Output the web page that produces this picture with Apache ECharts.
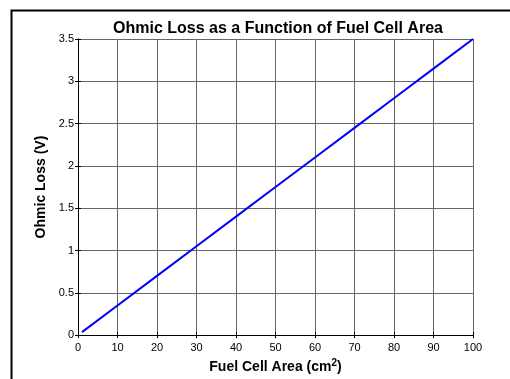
<!DOCTYPE html>
<html>
<head>
<meta charset="utf-8">
<script src="https://cdn.jsdelivr.net/npm/echarts@6/dist/echarts.min.js"></script>
<style>
  html, body { margin: 0; padding: 0; background: #fff; }
  #chart { width: 510px; height: 379px; }
</style>
</head>
<body>
<div id="chart"></div>
<script>
// fuel cell area (cm^2) and ohmic loss (V)
var areaValues = [1, 10, 20, 30, 40, 50, 60, 70, 80, 90, 100];
var lossValues = [0.035, 0.35, 0.70, 1.05, 1.40, 1.75, 2.10, 2.45, 2.80, 3.15, 3.50];

var xTicks = [0, 10, 20, 30, 40, 50, 60, 70, 80, 90, 100];
var yTicks = [0, 0.5, 1, 1.5, 2, 2.5, 3, 3.5];

var font = '"Liberation Sans", Arial, sans-serif';
var gridColor = '#666';

var chart = echarts.init(document.getElementById('chart'));

var baseX = {
    type: 'value',
    min: xTicks[0],
    max: xTicks[xTicks.length - 1],
    interval: 10
};
var baseY = {
    type: 'value',
    min: yTicks[0],
    max: yTicks[yTicks.length - 1],
    interval: 0.5
};

var option = {
    animation: false,
    title: {
        text: 'Ohmic Loss as a Function of Fuel Cell Area',
        left: 273,
        textAlign: 'center',
        top: 16,
        textStyle: {
            fontFamily: font,
            fontSize: 16,
            fontWeight: 'bold',
            color: '#000'
        }
    },
    grid: {
        left: 78,
        right: 37,
        top: 39,
        bottom: 39
    },
    xAxis: [
        Object.assign({}, baseX, {
            position: 'bottom',
            name: 'Fuel Cell Area (cm{sup|2})',
            nameLocation: 'middle',
            nameGap: 18,
            nameTextStyle: {
                fontFamily: font,
                fontSize: 14,
                fontWeight: 'bold',
                color: '#000',
                rich: {
                    sup: {
                        fontFamily: font,
                        fontSize: 10,
                        fontWeight: 'bold',
                        verticalAlign: 'top',
                        padding: [0, 0, 8, 0]
                    }
                }
            },
            axisLine: { show: true, lineStyle: { color: '#000', width: 1 } },
            axisTick: { show: true, inside: true, length: 3, lineStyle: { color: '#000' } },
            axisLabel: {
                margin: 7,
                fontFamily: font,
                fontSize: 11,
                color: '#000'
            },
            splitLine: { show: true, lineStyle: { color: gridColor, width: 1 } }
        }),
        Object.assign({}, baseX, {
            position: 'top',
            axisLine: { show: true, lineStyle: { color: '#000', width: 1 } },
            axisTick: { show: true, inside: true, length: 3, lineStyle: { color: '#000' } },
            axisLabel: { show: false },
            splitLine: { show: false }
        })
    ],
    yAxis: [
        Object.assign({}, baseY, {
            position: 'left',
            name: 'Ohmic Loss (V)',
            nameLocation: 'middle',
            nameGap: 28,
            nameTextStyle: {
                fontFamily: font,
                fontSize: 14,
                fontWeight: 'bold',
                color: '#000'
            },
            axisLine: { show: true, lineStyle: { color: '#000', width: 1 } },
            axisTick: { show: true, inside: true, length: 3, lineStyle: { color: '#000' } },
            axisLabel: {
                margin: 4,
                fontFamily: font,
                fontSize: 11,
                color: '#000'
            },
            splitLine: { show: true, lineStyle: { color: gridColor, width: 1 } }
        }),
        Object.assign({}, baseY, {
            position: 'right',
            axisLine: { show: true, lineStyle: { color: '#000', width: 1 } },
            axisTick: { show: true, inside: true, length: 3, lineStyle: { color: '#000' } },
            axisLabel: { show: false },
            splitLine: { show: false }
        })
    ],
    graphic: [
        // figure frame (top and left edges visible in the source image)
        {
            type: 'polyline',
            silent: true,
            shape: { points: [[11.5, 379], [11.5, 10.5], [510, 10.5]] },
            style: { stroke: '#000', lineWidth: 2, fill: null }
        }
    ],
    series: [
        {
            type: 'line',
            xAxisIndex: 0,
            yAxisIndex: 0,
            data: areaValues.map(function(a, i) { return [a, lossValues[i]]; }),
            showSymbol: false,
            lineStyle: { color: '#0000ff', width: 2 },
            itemStyle: { color: '#0000ff' }
        }
    ]
};

chart.setOption(option);
</script>
</body>
</html>
